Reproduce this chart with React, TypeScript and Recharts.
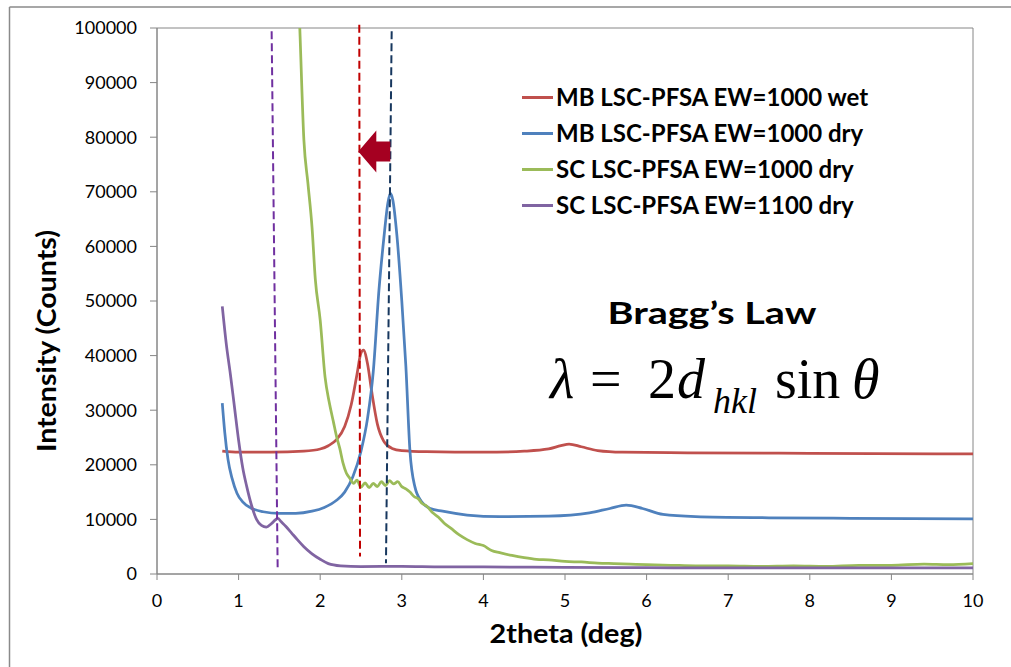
import { LineChart, Line, XAxis, YAxis, ReferenceLine, ReferenceArea, ReferenceDot, Legend } from 'recharts';

// MB LSC-PFSA EW=1000 wet
const wetX = [0.8, 1.0, 1.4, 1.8, 2.0, 2.1, 2.2, 2.3, 2.38, 2.45, 2.5, 2.53, 2.58, 2.63, 2.7, 2.78, 2.88, 3.0, 3.3, 4.0, 4.5, 4.8, 4.95, 5.05, 5.2, 5.4, 5.7, 6.5, 8.0, 10.0];
const wetY = [22500, 22300, 22300, 22500, 22900, 23500, 24600, 27000, 31000, 36500, 40500, 41000, 38500, 33500, 27500, 24300, 23000, 22600, 22400, 22300, 22500, 22900, 23500, 23800, 23300, 22600, 22300, 22200, 22100, 22000];

// MB LSC-PFSA EW=1000 dry
const dryX = [0.8, 0.83, 0.87, 0.92, 0.98, 1.05, 1.15, 1.3, 1.5, 1.7, 1.9, 2.05, 2.2, 2.3, 2.4, 2.5, 2.58, 2.65, 2.72, 2.78, 2.83, 2.86, 2.89, 2.94, 3.0, 3.05, 3.1, 3.16, 3.24, 3.35, 3.5, 3.8, 4.2, 4.8, 5.3, 5.55, 5.75, 5.95, 6.2, 6.6, 7.5, 8.5, 10.0];
const dryY = [31300, 26000, 21000, 17500, 14800, 13200, 12100, 11400, 11100, 11100, 11500, 12200, 13500, 15000, 17800, 22500, 28500, 37000, 52000, 61500, 68000, 69700, 68500, 62000, 50000, 38000, 22500, 16000, 13300, 12000, 11500, 10800, 10500, 10600, 11200, 12000, 12600, 12000, 10900, 10500, 10300, 10200, 10100];

// SC LSC-PFSA EW=1000 dry
const sc1000X = [1.6, 1.7, 1.75, 1.8, 1.85, 1.9, 1.94, 2.0, 2.06, 2.11, 2.16, 2.2, 2.24, 2.28, 2.32, 2.36, 2.41, 2.45, 2.5, 2.55, 2.6, 2.65, 2.7, 2.75, 2.8, 2.85, 2.9, 2.95, 3.0, 3.05, 3.1, 3.15, 3.2, 3.25, 3.3, 3.38, 3.45, 3.52, 3.6, 3.7, 3.8, 3.9, 4.0, 4.1, 4.2, 4.35, 4.5, 4.65, 4.8, 5.0, 5.2, 5.4, 5.6, 5.8, 6.0, 6.3, 6.6, 7.0, 7.4, 7.8, 8.2, 8.6, 9.0, 9.4, 9.7, 10.0];
const sc1000Y = [160000, 120000, 100000, 79500, 71500, 63500, 54000, 46500, 36000, 31500, 28000, 25200, 23000, 20300, 18500, 17600, 16600, 17200, 15900, 16700, 15800, 16600, 16000, 16900, 16200, 17100, 16500, 16900, 16000, 15600, 15000, 14200, 13800, 12900, 12500, 11200, 10400, 9300, 8400, 7200, 6300, 5600, 5200, 4300, 3900, 3400, 3000, 2700, 2600, 2300, 2200, 2000, 1900, 1800, 1700, 1600, 1500, 1500, 1400, 1500, 1400, 1600, 1600, 1800, 1700, 1900];

// SC LSC-PFSA EW=1100 dry
const sc1100X = [0.8, 0.85, 0.9, 0.95, 1.0, 1.05, 1.1, 1.16, 1.22, 1.28, 1.34, 1.4, 1.45, 1.48, 1.52, 1.58, 1.65, 1.72, 1.8, 1.9, 2.0, 2.1, 2.25, 2.5, 3.0, 3.5, 4.0, 5.0, 6.0, 7.0, 8.0, 9.0, 10.0];
const sc1100Y = [49000, 42000, 36500, 30500, 24500, 19500, 16000, 12500, 10000, 8900, 8600, 9200, 9900, 10200, 9600, 8700, 7500, 6300, 5000, 3700, 2700, 1900, 1500, 1350, 1400, 1300, 1300, 1200, 1150, 1100, 1100, 1100, 1100];

const xTicks = [0, 1, 2, 3, 4, 5, 6, 7, 8, 9, 10];
const yTicks = [0, 10000, 20000, 30000, 40000, 50000, 60000, 70000, 80000, 90000, 100000];

const toPoints = (xs: number[], ys: number[]) => xs.map((x, i) => ({ x, y: ys[i] }));

const series = [
  { name: 'MB LSC-PFSA EW=1000 wet', color: '#C0504D', data: toPoints(wetX, wetY) },
  { name: 'MB LSC-PFSA EW=1000 dry', color: '#4F81BD', data: toPoints(dryX, dryY) },
  { name: 'SC LSC-PFSA EW=1000 dry', color: '#9BBB59', data: toPoints(sc1000X, sc1000Y) },
  { name: 'SC LSC-PFSA EW=1100 dry', color: '#8064A2', data: toPoints(sc1100X, sc1100Y) },
];

const axisColor = '#868686';
const font = 'Lato, "Open Sans", sans-serif';

// keep the legend in series order
function LegendBox() {
  return (
    <div style={{ fontFamily: font, fontWeight: 700, fontSize: 24, color: '#000', lineHeight: '36px' }}>
      {series.map((s) => (
        <div key={s.name} style={{ display: 'flex', alignItems: 'center', height: 36 }}>
          <span style={{ display: 'inline-block', width: 31, height: 3, background: s.color, marginRight: 3 }} />
          <span>{s.name}</span>
        </div>
      ))}
    </div>
  );
}

const Arrow = (props: any) => {
  const { cx, cy } = props;
  const pts = [[0, 0], [18, -21], [18, -10], [32, -10], [32, 10], [18, 10], [18, 21]]
    .map(([dx, dy]) => `${cx + dx},${cy + dy}`).join(' ');
  return <polygon points={pts} fill="#A50021" />;
};

export default function App() {
  return (
    <div style={{ position: 'absolute', left: 0, top: 0, width: 1011, height: 667, background: '#fff', overflow: 'hidden' }}>
      <LineChart width={1011} height={667} margin={{ top: 28, right: 38, bottom: 33, left: 57 }}>
        <XAxis
          type="number"
          dataKey="x"
          domain={[0, 10]}
          ticks={xTicks}
          allowDataOverflow
          height={60}
          stroke={axisColor}
          tickSize={6}
          tickMargin={14}
          tick={{ fill: '#000', fontSize: 18, fontFamily: font }}
        />
        <YAxis
          type="number"
          dataKey="y"
          domain={[0, 100000]}
          ticks={yTicks}
          allowDataOverflow
          width={100}
          stroke={axisColor}
          tickSize={7}
          tickMargin={13}
          tick={{ fill: '#000', fontSize: 18, fontFamily: font }}
        />
        <ReferenceArea x1={0} x2={10} y1={0} y2={100000} fill="none" stroke={axisColor} strokeWidth={1} />
        {series.map((s) => (
          <Line
            key={s.name}
            data={s.data}
            dataKey="y"
            name={s.name}
            type="monotone"
            stroke={s.color}
            strokeWidth={2.75}
            dot={false}
            isAnimationActive={false}
          />
        ))}
        <ReferenceLine segment={[{ x: 1.405, y: 99400 }, { x: 1.479, y: 700 }]} stroke="#7030A0" strokeWidth={2} strokeDasharray="8 4" />
        <ReferenceLine segment={[{ x: 2.479, y: 100600 }, { x: 2.488, y: 3200 }]} stroke="#C00000" strokeWidth={2} strokeDasharray="8 4" ifOverflow="visible" />
        <ReferenceLine segment={[{ x: 2.876, y: 99400 }, { x: 2.806, y: 1960 }]} stroke="#17375E" strokeWidth={2} strokeDasharray="8 4" />
        <ReferenceDot x={2.467} y={77400} r={1} shape={Arrow} ifOverflow="visible" />
        <Legend
          layout="vertical"
          verticalAlign="middle"
          align="center"
          content={LegendBox}
          wrapperStyle={{ position: 'absolute', left: 522, top: 79, width: 380 }}
        />
      </LineChart>
      <svg width={1011} height={667} style={{ position: 'absolute', left: 0, top: 0, pointerEvents: 'none' }}>
        <line x1={9.5} y1={7} x2={9.5} y2={667} stroke="#8a8a8a" strokeWidth={1.5} />
        <line x1={9.5} y1={7} x2={1011} y2={7} stroke="#8a8a8a" strokeWidth={1.5} />
        <text
          x={56}
          y={341}
          transform="rotate(-90, 56, 341)"
          textAnchor="middle"
          fontFamily={font}
          fontWeight={700}
          fontSize={27}
          textLength={222}
          lengthAdjust="spacingAndGlyphs"
        >
          Intensity (Counts)
        </text>
        <text
          x={566}
          y={643}
          textAnchor="middle"
          fontFamily={font}
          fontWeight={700}
          fontSize={26}
          textLength={153}
          lengthAdjust="spacingAndGlyphs"
        >
          2theta (deg)
        </text>
        <text
          x={712}
          y={324}
          textAnchor="middle"
          fontFamily={font}
          fontWeight={700}
          fontSize={31}
          textLength={209}
          lengthAdjust="spacingAndGlyphs"
        >
          Bragg’s Law
        </text>
        <g fontFamily='"Liberation Serif", "DejaVu Serif", serif' fontSize={56} fill="#000">
          <text x={550} y={398} fontStyle="italic">λ</text>
          <text x={590} y={398}>=</text>
          <text x={648} y={398}>2</text>
          <text x={677} y={398} fontStyle="italic">d</text>
          <text x={713} y={413} fontStyle="italic" fontSize={36}>hkl</text>
          <text x={775} y={398}>sin</text>
          <text x={852} y={398} fontStyle="italic">θ</text>
        </g>
      </svg>
    </div>
  );
}
